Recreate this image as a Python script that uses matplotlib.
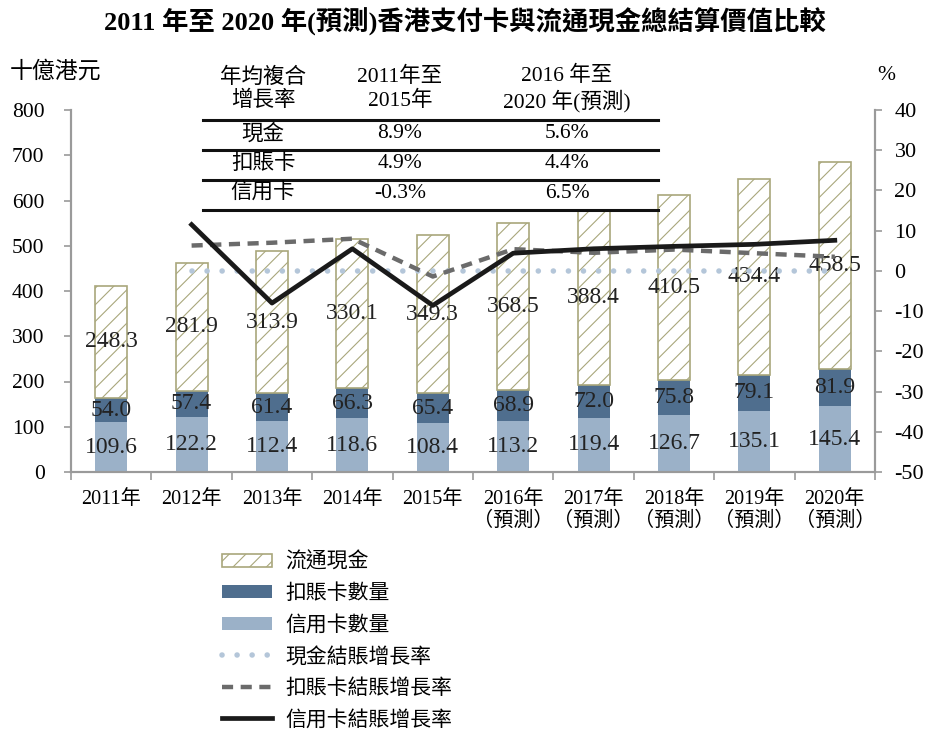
import matplotlib
matplotlib.use("Agg")
import matplotlib.pyplot as plt
from matplotlib.patches import Patch
from matplotlib.lines import Line2D

plt.rcParams['font.family'] = ['Liberation Serif', 'Noto Sans CJK TC']
plt.rcParams['hatch.linewidth'] = 0.8
plt.rcParams['axes.unicode_minus'] = False

# ---------------- data ----------------
years = ["2011年", "2012年", "2013年", "2014年", "2015年",
         "2016年\n（預測）", "2017年\n（預測）", "2018年\n（預測）", "2019年\n（預測）", "2020年\n（預測）"]
credit = [109.6, 122.2, 112.4, 118.6, 108.4, 113.2, 119.4, 126.7, 135.1, 145.4]
debit = [54.0, 57.4, 61.4, 66.3, 65.4, 68.9, 72.0, 75.8, 79.1, 81.9]
cash = [248.3, 281.9, 313.9, 330.1, 349.3, 368.5, 388.4, 410.5, 434.4, 458.5]

# growth rates (%) for 2012-2020
cash_growth = [0.0, 0.0, 0.0, 0.0, 0.0, 0.0, 0.0, 0.0, 0.0]
debit_growth = [6.3, 7.0, 8.0, -1.4, 5.4, 4.5, 5.3, 4.4, 3.5]
credit_growth = [11.5, -8.0, 5.5, -8.6, 4.4, 5.5, 6.1, 6.6, 7.6]

table_header = [["年均複合\n增長率", "2011年至\n2015年", "2016 年至\n2020 年(預測)"]]
table_rows = [["現金", "8.9%", "5.6%"],
              ["扣賬卡", "4.9%", "4.4%"],
              ["信用卡", "-0.3%", "6.5%"]]

title = "2011 年至 2020 年(預測)香港支付卡與流通現金總結算價值比較"

# ---------------- colours ----------------
c_credit = "#9bb1c8"
c_debit = "#4f6e8e"
c_cash_edge = "#a9a77c"
c_dot = "#b4c6d9"
c_dash = "#6b6b6b"
c_solid = "#1a1a1a"
c_spine = "#9a9a9a"

W, H = 930, 733
fig = plt.figure(figsize=(W / 100, H / 100), dpi=100)
L, R, T, B = 71, 875, 110, 472
ax = fig.add_axes([L / W, 1 - B / H, (R - L) / W, (B - T) / H])
ax2 = ax.twinx()

x = list(range(len(years)))
bw = 0.4
ax.bar(x, credit, bw, color=c_credit, zorder=2)
ax.bar(x, debit, bw, bottom=credit, color=c_debit, zorder=2)
bot3 = [a + b for a, b in zip(credit, debit)]
ax.bar(x, cash, bw, bottom=bot3, facecolor="white", edgecolor=c_cash_edge,
       hatch="//", linewidth=1.2, zorder=2)

lab_fs = 17
for i in x:
    ax.text(i, credit[i] / 2, f"{credit[i]:.1f}", ha="center", va="center",
            fontsize=lab_fs, color="#222222", zorder=5)
    ax.text(i, credit[i] + debit[i] / 2, f"{debit[i]:.1f}", ha="center", va="center",
            fontsize=lab_fs, color="#222222", zorder=5)
    ax.text(i, bot3[i] + cash[i] / 2, f"{cash[i]:.1f}", ha="center", va="center",
            fontsize=lab_fs, color="#222222", zorder=5)

ax.set_xlim(-0.5, len(years) - 0.5)
ax.set_ylim(0, 800)
ax.set_yticks(range(0, 801, 100))
ax2.set_ylim(-50, 40)
ax2.set_yticks(range(-50, 41, 10))

xl = x[1:]
ax2.plot(xl, cash_growth, color=c_dot, lw=4, linestyle=(0, (0.01, 2.7)),
         dash_capstyle="round", zorder=3)
ax2.plot(xl, debit_growth, color=c_dash, lw=3.2, linestyle=(0, (2.5, 1.7)),
         dash_capstyle="butt", zorder=3)
ax2.plot(xl, credit_growth, color=c_solid, lw=3.4, zorder=4)

# ticks / spines
for a in (ax, ax2):
    a.spines["top"].set_visible(False)
    for s in ("left", "right", "bottom"):
        a.spines[s].set_color(c_spine)
        a.spines[s].set_linewidth(1.5)
ax.set_xticks([i - 0.5 for i in range(len(years) + 1)])
ax.set_xticklabels([])
ax.set_xticks(x, minor=True)
ax.set_xticklabels(years, minor=True, fontsize=14.5, linespacing=1.15)
ax.tick_params(axis="x", which="major", length=5.5, width=1.2, color=c_spine, direction="out")
ax.tick_params(axis="x", which="minor", length=0, pad=13)
ax.tick_params(axis="y", length=5, width=1.2, color=c_spine, labelsize=15.5, pad=14)
ax2.tick_params(axis="y", length=5, width=1.2, color=c_spine, labelsize=16, pad=9)

# titles / unit labels
fig.text(0.5, 1 - 22 / H, title, ha="center", va="center", fontsize=19, fontweight="bold")
fig.text(10 / W, 1 - 72 / H, "十億港元", ha="left", va="center", fontsize=16.5)
fig.text(886 / W, 1 - 75 / H, "%", ha="center", va="center", fontsize=15.5)

# table
tx = [263, 400, 567]
ty_head = 89
for j, t in enumerate(table_header[0]):
    fig.text(tx[j] / W, 1 - ty_head / H, t, ha="center", va="center", fontsize=15.5,
             linespacing=1.2)
row_y = [134, 164, 194]
for r, row in enumerate(table_rows):
    for j, t in enumerate(row):
        fig.text(tx[j] / W, 1 - row_y[r] / H, t, ha="center", va="center", fontsize=15.5)
for yy in (120, 150, 180, 210):
    fig.add_artist(Line2D([203 / W, 658 / W], [1 - yy / H, 1 - yy / H], color="#111111",
                          lw=2.2, transform=fig.transFigure))

# legend
handles = [
    Patch(facecolor="white", edgecolor=c_cash_edge, hatch="//", linewidth=1.2),
    Patch(facecolor=c_debit),
    Patch(facecolor=c_credit),
    Line2D([], [], color=c_dot, lw=4, linestyle=(0, (0.01, 2.7)), dash_capstyle="round"),
    Line2D([], [], color=c_dash, lw=3.2, linestyle=(0, (2.5, 1.7))),
    Line2D([], [], color=c_solid, lw=3.4),
]
labels = ["流通現金", "扣賬卡數量", "信用卡數量", "現金結賬增長率", "扣賬卡結賬增長率", "信用卡結賬增長率"]
fig.legend(handles, labels, loc="upper left", bbox_to_anchor=(212 / W, 1 - 542 / H),
           frameon=False, fontsize=15, handlelength=2.4, handleheight=0.6,
           labelspacing=0.56, handletextpad=0.6, borderpad=0)

fig.savefig("out.png", dpi=100)
